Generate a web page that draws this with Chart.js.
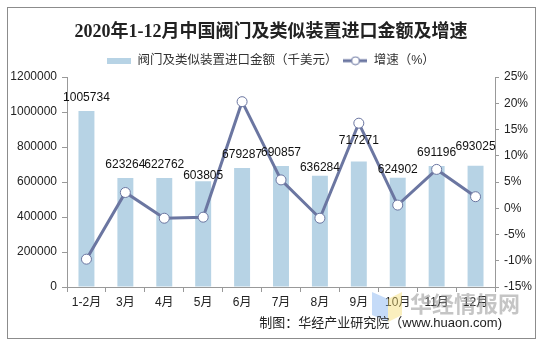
<!DOCTYPE html>
<html lang="zh-CN">
<head>
  <meta charset="UTF-8">
  <title>2020年1-12月中国阀门及类似装置进口金额及增速</title>
  <script src="https://cdn.jsdelivr.net/npm/chart.js"></script>
  <style>
    html, body { margin: 0; padding: 0; background: #fff; }
    #chart { display: block; }
  </style>
</head>
<body>
  <canvas id="chart" width="542" height="347"></canvas>

  <script>
    // 数据
    const months = ['1-2月', '3月', '4月', '5月', '6月', '7月', '8月', '9月', '10月', '11月', '12月'];
    const importValue = [1005734, 623264, 622762, 603805, 679287, 690857, 636284, 717271, 624902, 691196, 693025]; // 千美元
    const growthRate = [-9.7, 3.0, -1.9, -1.7, 20.3, 5.4, -1.9, 16.2, 0.6, 7.4, 2.2]; // %
    const leftTicks = [0, 200000, 400000, 600000, 800000, 1000000, 1200000];
    const rightTicks = [-15, -10, -5, 0, 5, 10, 15, 20, 25];

    const barColor = '#b7d3e5';
    const lineColor = '#6b76a1';
    const fontFamily = '"Liberation Sans", "Noto Sans CJK SC", sans-serif';

    // 数据标签的微调（像素），仿照原图的错位
    const labelNudge = [0, 0, 0, 7, 0, 0, 5, -8, 5, 0, -6];

    // 图例图标
    function barIcon() {
      const c = document.createElement('canvas');
      c.width = 24; c.height = 6;
      const g = c.getContext('2d');
      g.fillStyle = barColor;
      g.fillRect(0, 0, 24, 6);
      return c;
    }
    function lineIcon() {
      const c = document.createElement('canvas');
      c.width = 24; c.height = 10;
      const g = c.getContext('2d');
      g.strokeStyle = lineColor;
      g.lineWidth = 3;
      g.beginPath(); g.moveTo(0, 5); g.lineTo(24, 5); g.stroke();
      g.fillStyle = '#fff';
      g.lineWidth = 1;
      g.beginPath(); g.arc(12, 5, 4, 0, Math.PI * 2); g.fill(); g.stroke();
      return c;
    }

    const framePlugin = {
      id: 'frame',
      beforeDraw(chart) {
        const c = chart.ctx;
        c.save();
        c.fillStyle = '#fff';
        c.fillRect(0, 0, chart.width, chart.height);
        c.strokeStyle = '#8c8c8c';
        c.lineWidth = 1;
        c.strokeRect(7.5, 7.5, 528, 331);
        c.restore();
      },
      afterDraw(chart) {
        const c = chart.ctx;
        c.save();
        // 水印
        c.globalAlpha = 0.45;
        c.fillStyle = '#7fb0f0';
        c.beginPath(); c.moveTo(372, 292); c.lineTo(388, 299); c.lineTo(388, 322); c.lineTo(372, 315); c.closePath(); c.fill();
        c.fillStyle = '#f5dc6e';
        c.beginPath(); c.moveTo(388, 299); c.lineTo(402, 292); c.lineTo(402, 315); c.lineTo(388, 322); c.closePath(); c.fill();
        c.globalAlpha = 1;
        c.fillStyle = 'rgba(150,150,150,0.55)';
        c.font = 'bold 22px "Noto Sans CJK SC", sans-serif';
        c.textAlign = 'left';
        c.textBaseline = 'middle';
        c.fillText('华经情报网', 410, 304);
        // 来源
        c.fillStyle = '#222';
        c.font = '13px ' + fontFamily;
        c.textAlign = 'right';
        c.fillText('制图：华经产业研究院（www.huaon.com)', 502, 323);
        c.restore();
      }
    };

    const barLabelPlugin = {
      id: 'barLabels',
      afterDatasetsDraw(chart) {
        const meta = chart.getDatasetMeta(1);
        const c = chart.ctx;
        c.save();
        c.font = '12px ' + fontFamily;
        c.fillStyle = '#111';
        c.textAlign = 'center';
        c.textBaseline = 'middle';
        meta.data.forEach((bar, i) => {
          c.fillText(String(chart.data.datasets[1].data[i]), bar.x, bar.y - 13 + labelNudge[i]);
        });
        c.restore();
      }
    };

    const ctx = document.getElementById('chart').getContext('2d');
    new Chart(ctx, {
      data: {
        labels: months,
        datasets: [
          {
            type: 'line',
            label: '增速（%）',
            data: growthRate,
            yAxisID: 'y1',
            borderColor: lineColor,
            borderWidth: 3,
            pointRadius: 5,
            pointBackgroundColor: '#fff',
            pointBorderColor: lineColor,
            pointBorderWidth: 1,
            tension: 0,
            order: 0
          },
          {
            type: 'bar',
            label: '阀门及类似装置进口金额（千美元）',
            data: importValue,
            yAxisID: 'y',
            backgroundColor: barColor,
            barPercentage: 0.41,
            categoryPercentage: 1,
            order: 1
          }
        ]
      },
      options: {
        responsive: false,
        devicePixelRatio: 1,
        animation: false,
        layout: { padding: { left: 0, right: 0, top: 0, bottom: 0 } },
        plugins: {
          tooltip: { enabled: false },
          title: {
            display: true,
            text: '2020年1-12月中国阀门及类似装置进口金额及增速',
            color: '#222',
            font: { family: '"Liberation Serif", "Noto Sans CJK SC", serif', size: 18, weight: 'bold' },
            padding: { top: 20, bottom: 5 }
          },
          legend: {
            display: true,
            reverse: true,
            labels: {
              color: '#333',
              font: { family: fontFamily, size: 12.5 },
              usePointStyle: true,
              pointStyleWidth: 24,
              padding: 6,
              generateLabels(chart) {
                return chart.data.datasets.map((ds, i) => ({
                  text: ds.label,
                  pointStyle: ds.type === 'bar' ? barIcon() : lineIcon(),
                  datasetIndex: i,
                  fontColor: '#333',
                  lineWidth: 0,
                  hidden: false
                }));
              }
            }
          }
        },
        scales: {
          x: {
            offset: true,
            grid: { display: true, drawOnChartArea: false, offset: true, tickLength: 5, color: '#999' },
            border: { color: '#999' },
            ticks: { color: '#222', font: { family: fontFamily, size: 12 }, padding: 3, maxRotation: 0 },
            afterFit(scale) { scale.height = 60; }
          },
          y: {
            position: 'left',
            min: 0,
            max: 1200000,
            afterBuildTicks(scale) { scale.ticks = leftTicks.map(v => ({ value: v })); },
            grid: { drawOnChartArea: false, tickLength: 5, color: '#999' },
            border: { color: '#999' },
            ticks: { color: '#222', font: { family: fontFamily, size: 12 }, padding: 5, callback: v => String(v) },
            afterFit(scale) { scale.width = 67; scale.paddingTop = 77; }
          },
          y1: {
            position: 'right',
            min: -15,
            max: 25,
            afterBuildTicks(scale) { scale.ticks = rightTicks.map(v => ({ value: v })); },
            grid: { drawOnChartArea: false, tickLength: 4, color: '#999' },
            border: { color: '#999' },
            ticks: { color: '#222', font: { family: fontFamily, size: 12 }, padding: 5, callback: v => v + '%' },
            afterFit(scale) { scale.width = 47; }
          }
        }
      },
      plugins: [framePlugin, barLabelPlugin]
    });
  </script>
</body>
</html>
